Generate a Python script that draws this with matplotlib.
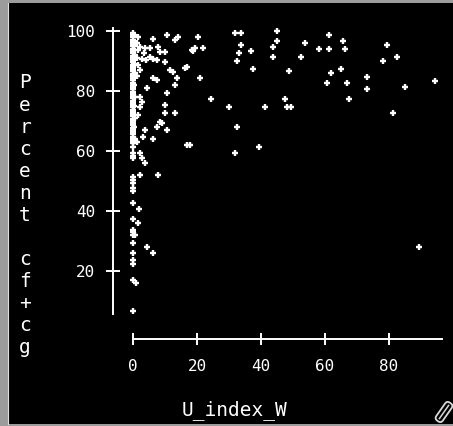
import matplotlib
matplotlib.use("Agg")
import matplotlib.pyplot as plt
from matplotlib.patches import Rectangle, FancyBboxPatch
from matplotlib.lines import Line2D
from matplotlib.transforms import Affine2D

# Percent cf+cg for the sites with U_index_W == 0
zero_col_pct = [
    99.2, 98.5, 97.8, 97.0, 96.3, 95.5, 94.8, 94.0, 93.2, 92.5, 91.7, 91.0,
    90.2, 89.5, 88.7, 88.0, 87.2, 86.5, 85.7, 85.0, 84.2, 83.5, 82.7, 82.0,
    81.2, 80.5, 79.7, 79.0, 78.2, 77.5, 76.7, 76.0, 75.2, 74.5, 73.7, 73.0,
    72.2, 71.5, 70.7, 70.0, 69.2, 68.5, 67.7, 67.0, 66.2, 65.5, 64.7, 64.0,
    63.2, 62.5, 61.3, 59.2, 58.3, 57.5, 51.3, 50.3, 49.2, 47.5, 46.7, 42.5,
    37.1, 33.6, 32.8, 31.9, 29.1, 26.0, 23.6, 22.2, 16.9, 6.7,
]

# remaining sites
u_index_w = [
    0.4, 0.4, 0.5, 0.4, 0.5, 0.4, 0.5, 0.4, 0.5, 0.4, 0.5,
    1.7, 1.2, 1.5, 1.2, 1.6, 1.3,
    6.3, 10.5, 13.1, 14.2, 20.4,
    2.2, 3.75, 5.3, 7.9, 8.4, 10.0, 18.3, 19.4, 18.8, 22.0,
    5.3, 6.3, 7.4, 10.0, 16.8, 16.25, 12.6, 11.6,
    6.3, 7.4, 13.6, 21.0, 2.2, 2.8, 3.5, 4.2,
    4.3, 13.1, 10.5, 2.2, 2.7, 2.2, 10.0, 10.0, 13.1, 1.6,
    8.4, 9.0, 7.4, 3.75, 10.5, 3.2, 6.3, 1.2,
    16.8, 17.8, 2.2, 2.7, 3.75, 2.2, 7.9,
    1.9, 1.45, 0.6, 4.3, 6.3, 0.9,
    31.9, 33.6, 45.1, 45.1, 33.6, 43.9, 33.2, 36.9, 32.6, 43.9, 37.6, 48.8,
    53.9, 52.5, 58.2, 61.4, 61.4, 65.7, 66.3, 62.0, 60.6, 65.1, 67.0, 67.6,
    73.2, 73.2, 79.5, 78.1, 82.6, 85.1, 81.3, 94.5, 47.6, 48.2, 49.5, 41.3,
    30.1, 24.5, 32.6, 32.0, 39.5, 89.4,
]
percent_cfcg = [
    98.5, 95.0, 92.0, 89.0, 86.0, 82.0, 78.0, 75.0, 71.0, 68.0, 64.0,
    98.0, 96.0, 93.5, 91.0, 88.5, 85.0,
    97.2, 98.6, 96.9, 98.0, 98.0,
    94.7, 94.1, 94.1, 94.7, 93.0, 93.0, 93.6, 94.1, 93.2, 94.1,
    91.3, 90.7, 90.2, 89.7, 88.0, 87.5, 86.3, 86.9,
    84.1, 83.6, 84.1, 84.1, 86.9, 90.5, 92.5, 90.2,
    80.8, 81.9, 79.1, 78.0, 76.3, 74.7, 75.2, 72.5, 72.5, 72.0,
    69.7, 69.1, 68.0, 66.9, 66.9, 64.7, 63.8, 63.0,
    61.9, 61.9, 59.1, 57.5, 55.8, 51.9, 51.9,
    40.5, 35.8, 31.9, 27.8, 26.0, 15.8,
    99.1, 99.1, 100.0, 96.7, 95.2, 94.7, 92.5, 93.2, 89.9, 91.3, 87.2, 86.6,
    96.0, 91.3, 93.9, 98.6, 93.9, 96.7, 93.9, 86.0, 82.7, 87.2, 82.7, 77.2,
    84.6, 80.6, 95.2, 89.9, 91.2, 81.2, 72.6, 83.2, 77.2, 74.4, 74.6, 74.6,
    74.6, 77.2, 67.9, 59.2, 61.2, 27.9,
]

x_ticks = [0, 20, 40, 60, 80]
y_ticks = [20, 40, 60, 80, 100]

xs = [0.0] * len(zero_col_pct) + u_index_w
ys = zero_col_pct + percent_cfcg

W, H = 453, 426
mono = "DejaVu Sans Mono"

fig = plt.figure(figsize=(W / 100, H / 100), dpi=100, facecolor="#9c9c9c")
# black window area inside the grey frame
fig.patches.append(Rectangle((8 / W, 2 / H), (W - 8) / W, (H - 5) / H,
                             transform=fig.transFigure, facecolor="black",
                             edgecolor="none", zorder=-10))
fig.add_artist(Line2D([7.5 / W, 7.5 / W], [2 / H, (H - 3) / H],
                      transform=fig.transFigure, color="#e0e0e0", lw=0.8))

ax = fig.add_axes([113 / W, 87 / H, 337 / W, 314 / H])
ax.set_zorder(2)
ax.patch.set_visible(False)

ax.plot(xs, ys, linestyle="none", marker="+", color="white",
        markersize=5, markeredgewidth=1.7)

ax.set_xlim(-6.25, 99.06)
ax.set_ylim(-2.77, 101.9)

for side in ("top", "right"):
    ax.spines[side].set_visible(False)
for side in ("left", "bottom"):
    ax.spines[side].set_color("white")
    ax.spines[side].set_linewidth(1.4)
ax.spines["left"].set_bounds(min(ys) - 1.2, max(ys) + 0.8)
ax.spines["bottom"].set_bounds(0, max(xs) + 2.1)

ax.set_xticks(x_ticks)
ax.set_yticks(y_ticks)
ax.tick_params(axis="y", direction="inout", length=9.4, width=1.4,
               colors="white", pad=8.3, labelsize=11.5)
ax.tick_params(axis="x", direction="inout", length=8, width=1.4,
               colors="white", pad=10.5, labelsize=11.5)
for lab in ax.get_xticklabels() + ax.get_yticklabels():
    lab.set_family(mono)

# axis titles
fig.text(234.5 / W, 1 - 410 / H, "U_index_W", ha="center", va="center",
         color="white", family=mono, fontsize=14)
for i, ch in enumerate("Percent cf+cg"):
    fig.text(25 / W, 1 - (83 + i * 22.08) / H, ch, ha="center", va="center",
             color="white", family=mono, fontsize=14)

# small handle icon in the corner
rot = Affine2D().rotate_deg_around(444, 14, 55)
handle = FancyBboxPatch((433, 10), 22, 8, boxstyle="round,pad=0,rounding_size=3.5",
                        transform=rot, facecolor="none", edgecolor="#d8d8d8",
                        lw=1.3)
fig.add_artist(handle)
fig.add_artist(Line2D([436, 452], [14, 14], transform=rot, color="#d8d8d8", lw=1.1))

fig.savefig("out.png", dpi=100, facecolor=fig.get_facecolor())
